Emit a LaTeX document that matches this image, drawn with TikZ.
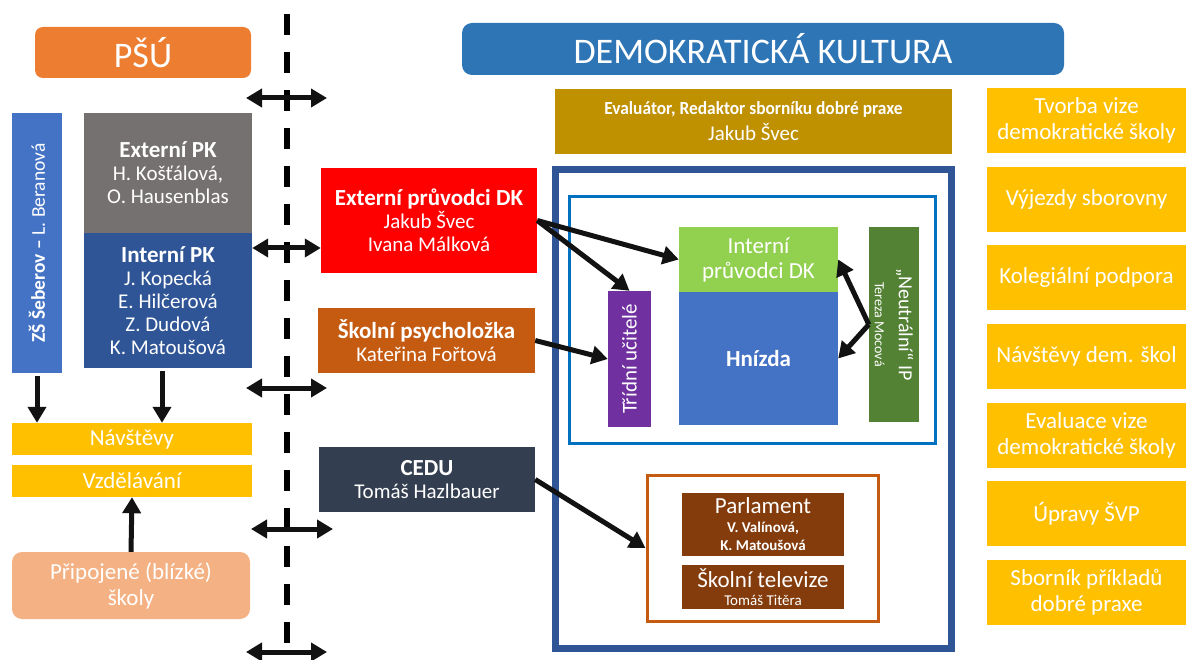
\documentclass[tikz,border=0pt]{standalone}
\usepackage{fontspec}
\setmainfont{Carlito}
\usepackage{graphicx}
\usepackage{tikz}
\usetikzlibrary{arrows.meta}
\definecolor{psuorange}{HTML}{ED7D31}
\definecolor{zsblue}{HTML}{4472C4}
\definecolor{pkgray}{HTML}{767171}
\definecolor{pkblue}{HTML}{2F5597}
\definecolor{gold}{HTML}{FFC000}
\definecolor{peach}{HTML}{F4B183}
\definecolor{extred}{HTML}{FF0000}
\definecolor{rust}{HTML}{C55A11}
\definecolor{slate}{HTML}{333F50}
\definecolor{dkblue}{HTML}{2E75B6}
\definecolor{ochre}{HTML}{BF9000}
\definecolor{nestblue}{HTML}{0070C0}
\definecolor{lgreen}{HTML}{92D050}
\definecolor{dgreen}{HTML}{548235}
\definecolor{purple}{HTML}{7030A0}
\definecolor{brown}{HTML}{843C0C}
\colorlet{arcol}{black!93}
\newcommand\sz[2]{\fontsize{#1}{#2}\selectfont}
\newcommand\hd[1]{{\sz{23}{23}\bfseries #1}}
\tikzstyle{blk}=[inner sep=0pt, align=center, text=white, font=\sz{21}{23}]
\tikzstyle{frm}=[draw, inner sep=0pt]
\tikzstyle{arhead}=[>/.tip={Triangle[length=16pt,width=18pt]}]
\tikzstyle{ar} =[line width=5pt, arhead, ->, arcol]
\tikzstyle{dar}=[line width=5pt, arhead, <->, arcol]

\begin{document}
\begin{tikzpicture}[x=1pt,y=-1pt]
	\useasboundingbox (0,0) rectangle (1186,660);
	\coordinate (dtop) at (287,14);
	\coordinate (dbot) at (287,662);
	\draw[line width=6.5pt, dash pattern=on 21pt off 17pt] (dtop) -- (dbot);

	\node[blk, fill=psuorange, rounded corners=8pt, minimum width=216pt, minimum height=51pt, font=\sz{36}{40}] (psu) at (143,52.5) {PŠÚ};
	\node[blk, fill=zsblue, rotate=90, minimum width=260pt, minimum height=50pt, font=\sz{19.5}{22}] (zs) at (37,243) {{\bfseries ZŠ Šeberov –} L. Beranová};
	\node[blk, fill=pkgray, minimum width=168pt, minimum height=120pt] (epk) at (168,173) {\hd{Externí PK}\\H. Košťálová,\\O. Hausenblas};
	\node[blk, fill=pkblue, minimum width=168pt, minimum height=135pt] (ipk) at (168,300.5) {\hd{Interní PK}\\J. Kopecká\\E. Hilčerová\\Z. Dudová\\K. Matoušová};
	\node[blk, fill=gold, minimum width=240pt, minimum height=32pt, font=\sz{23}{26}] (nav) at (132,439) {Návštěvy};
	\node[blk, fill=gold, minimum width=240pt, minimum height=32pt, font=\sz{23}{26}] (vzd) at (132,481) {Vzdělávání};
	\node[blk, fill=peach, rounded corners=10pt, minimum width=238pt, minimum height=67pt, font=\sz{23}{26}] (pri) at (131,585.5) {Připojené (blízké)\\školy};

	\node[blk, fill=extred, minimum width=216pt, minimum height=105pt] (ext) at (429,220.5) {\hd{Externí průvodci DK}\\Jakub Švec\\Ivana Málková};
	\node[blk, fill=rust, minimum width=217pt, minimum height=65pt] (psy) at (426.5,340.5) {\hd{Školní psycholožka}\\Kateřina Fořtová};
	\node[blk, fill=slate, minimum width=216pt, minimum height=65pt] (cedu) at (427,479.5) {\hd{CEDU}\\Tomáš Hazlbauer};

	\node[blk, fill=dkblue, rounded corners=10pt, minimum width=602pt, minimum height=52pt, font=\sz{36}{40}] (dk) at (763,49) {DEMOKRATICKÁ KULTURA};
	\node[blk, fill=ochre, minimum width=397pt, minimum height=65pt] (eva) at (753.5,121.5) {\scalebox{0.94}[1]{\sz{18.5}{18.5}\bfseries Evaluátor, Redaktor sborníku dobré praxe}\\[3pt]{\sz{21}{21}Jakub Švec}};
	\node[frm, draw=pkblue, line width=7pt, minimum width=396pt, minimum height=478pt] (out) at (753,409) {};
	\node[frm, draw=nestblue, line width=3pt, minimum width=366pt, minimum height=246pt] (nest) at (752,320) {};
	\node[blk, fill=lgreen, minimum width=159pt, minimum height=65pt, font=\sz{23}{25}] (ipdk) at (758.5,259.5) {Interní\\průvodci DK};
	\node[blk, fill=zsblue, minimum width=159pt, minimum height=133pt] (hni) at (758.5,358.5) {\hd{Hnízda}};
	\node[blk, fill=purple, rotate=90, minimum width=136pt, minimum height=43pt, font=\sz{21}{24}] (tri) at (629.5,359) {Třídní učitelé};
	\node[blk, fill=dgreen, rotate=-90, minimum width=195pt, minimum height=50pt] (neu) at (894,324.5) {{\sz{20}{20}„Neutrální“ IP}\\[1pt]{\sz{14}{14}Tereza Mocová}};
	\node[frm, draw=rust, line width=3pt, minimum width=231pt, minimum height=146pt] (skb) at (762.5,548) {};
	\node[blk, fill=brown, minimum width=162pt, minimum height=63pt] (par) at (763,524.5) {{\sz{23}{23}Parlament}\\[-4pt]{\sz{15}{15}\bfseries V. Valínová,}\\[-5pt]{\sz{15}{15}\bfseries K. Matoušová}};
	\node[blk, fill=brown, minimum width=162pt, minimum height=44pt] (tv) at (763,587) {{\sz{23}{23}Školní televize}\\[-5pt]{\sz{15}{15}Tomáš Titěra}};

	\foreach \t [count=\i] in {{Tvorba vize\\demokratické školy}, {Výjezdy sborovny}, {Kolegiální podpora}, {Návštěvy dem. škol}, {Evaluace vize\\demokratické školy}, {Úpravy ŠVP}, {Sborník příkladů\\dobré praxe}}
		\node[blk, fill=gold, minimum width=199pt, minimum height=65pt, font=\sz{23}{26}] (r\i) at (1086.5,41.83+78.67*\i) {\t};

	\foreach \n/\y/\xa/\xb in {a/98/246/327, c/388/246/327, d/529/251/333, e/652/246/327} {
		\coordinate (\n l) at (\xa,\y);
		\coordinate (\n r) at (\xb,\y);
		\draw[dar] (\n l) -- (\n r);
	}
	\coordinate (b) at (287,248);
	\draw[dar] (ipk.east |- b) -- (ext.west |- b);

	\draw[ar, shorten <=3pt] (zs.west) -- (zs.west |- nav.north);
	\draw[ar, shorten <=3pt] ([xshift=-6pt]ipk.south) -- ([xshift=-6pt]ipk.south |- nav.north);
	\draw[ar] (pri.north) -- (vzd.south);
	\draw[ar] (ext.east) -- (ipdk.west);
	\draw[ar] (ext.east) -- (tri.east);
	\draw[ar] (psy.east) -- (tri.north);
	\draw[ar] (cedu.east) -- (skb.west);
	\draw[ar] (neu.south) -- (ipdk.east);
	\draw[ar] (neu.south) -- (hni.east);
\end{tikzpicture}
\end{document}
